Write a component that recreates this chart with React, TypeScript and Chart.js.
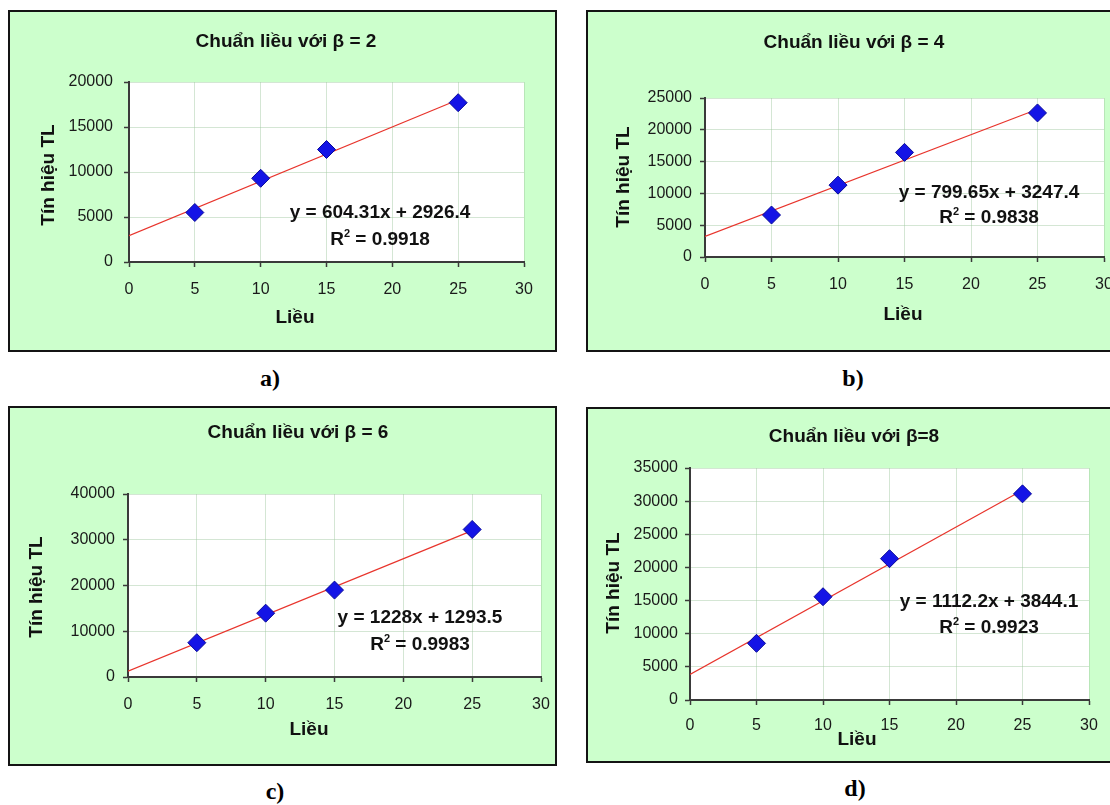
import React, { useEffect, useRef } from "react";
import { Chart, registerables } from "chart.js";

Chart.register(...registerables);

// ---------------- data ----------------
const doses = [5, 10, 15, 25];
const signalA = [5500, 9300, 12500, 17700];
const signalB = [6600, 11300, 16450, 22650];
const signalC = [7500, 13950, 19000, 32250];
const signalD = [8550, 15580, 21320, 31100];
const signals = [signalA, signalB, signalC, signalD];

const slopes = [604.31, 799.65, 1228, 1112.2];
const intercepts = [2926.4, 3247.4, 1293.5, 3844.1];
const trendFrom = 0;
const trendTo = 25;

const titles = [
  "Chuẩn liều với β = 2",
  "Chuẩn liều với β = 4",
  "Chuẩn liều với β = 6",
  "Chuẩn liều với β=8",
];
const equations = [
  "y = 604.31x + 2926.4",
  "y = 799.65x + 3247.4",
  "y = 1228x + 1293.5",
  "y = 1112.2x + 3844.1",
];
const r2Values = ["0.9918", "0.9838", "0.9983", "0.9923"];
const yMaxes = [20000, 25000, 40000, 35000];
const ySteps = [5000, 5000, 10000, 5000];
const xMin = 0;
const xMax = 30;
const xStep = 5;
const captions = ["a)", "b)", "c)", "d)"];
const xAxisTitle = "Liều";
const yAxisTitle = "Tín hiệu TL";

// ---------------- layout (page pixels) ----------------
type Geo = {
  box: { x: number; y: number; w: number; h: number };
  plot: { l: number; t: number; r: number; b: number };
  title: [number, number];
  xTitle: [number, number];
  yTitle: [number, number];
  eq: [number, number];
  r2: [number, number];
  yPad: number;
  xPad: number;
};

const geos: Geo[] = [
  {
    box: { x: 8, y: 10, w: 549, h: 342 },
    plot: { l: 129, t: 82, r: 524, b: 262 },
    title: [286, 42],
    xTitle: [295, 318],
    yTitle: [49, 175],
    eq: [380, 213],
    r2: [380, 240],
    yPad: 11,
    xPad: 13,
  },
  {
    box: { x: 586, y: 10, w: 540, h: 342 },
    plot: { l: 705, t: 98, r: 1104, b: 257 },
    title: [854, 43],
    xTitle: [903, 315],
    yTitle: [624, 177],
    eq: [989, 193],
    r2: [989, 218],
    yPad: 8,
    xPad: 13,
  },
  {
    box: { x: 8, y: 406, w: 549, h: 360 },
    plot: { l: 128, t: 494, r: 541, b: 677 },
    title: [298, 433],
    xTitle: [309, 730],
    yTitle: [37, 587],
    eq: [420, 618],
    r2: [420, 645],
    yPad: 8,
    xPad: 13,
  },
  {
    box: { x: 586, y: 407, w: 540, h: 356 },
    plot: { l: 690, t: 468, r: 1089, b: 700 },
    title: [854, 437],
    xTitle: [857, 740],
    yTitle: [614, 583],
    eq: [989, 602],
    r2: [989, 628],
    yPad: 7,
    xPad: 11,
  },
];

const captionPos: [number, number][] = [
  [270, 378],
  [853, 378],
  [275, 791],
  [855, 788],
];

const FONT = '"Liberation Sans", Arial, Helvetica, sans-serif';
const BORDER = 2;

function overlayPlugin(i: number, g: Geo) {
  return {
    id: "overlay" + i,
    beforeDraw(chart: any) {
      const { ctx, chartArea: a, width, height } = chart;
      ctx.save();
      ctx.fillStyle = "#ccffcc";
      ctx.fillRect(0, 0, width, height);
      ctx.fillStyle = "#ffffff";
      ctx.fillRect(a.left, a.top, a.right - a.left, a.bottom - a.top);
      ctx.restore();
    },
    afterDraw(chart: any) {
      const ctx = chart.ctx as CanvasRenderingContext2D;
      const ox = g.box.x + BORDER;
      const oy = g.box.y + BORDER;
      ctx.save();
      ctx.fillStyle = "#111111";
      ctx.textAlign = "center";
      ctx.textBaseline = "middle";
      ctx.font = `bold 19px ${FONT}`;
      ctx.fillText(titles[i], g.title[0] - ox, g.title[1] - oy);
      ctx.fillText(xAxisTitle, g.xTitle[0] - ox, g.xTitle[1] - oy);
      ctx.save();
      ctx.translate(g.yTitle[0] - ox, g.yTitle[1] - oy);
      ctx.rotate(-Math.PI / 2);
      ctx.fillText(yAxisTitle, 0, 0);
      ctx.restore();
      ctx.fillText(equations[i], g.eq[0] - ox, g.eq[1] - oy);

      // R² line
      const rest = " = " + r2Values[i];
      ctx.font = `bold 19px ${FONT}`;
      const wR = ctx.measureText("R").width;
      const wRest = ctx.measureText(rest).width;
      ctx.font = `bold 11px ${FONT}`;
      const wSup = ctx.measureText("2").width;
      const total = wR + wSup + wRest;
      const sx = g.r2[0] - ox - total / 2;
      const cy = g.r2[1] - oy;
      ctx.textAlign = "left";
      ctx.font = `bold 19px ${FONT}`;
      ctx.fillText("R", sx, cy);
      ctx.fillText(rest, sx + wR + wSup, cy);
      ctx.font = `bold 11px ${FONT}`;
      ctx.fillText("2", sx + wR, cy - 6);
      ctx.restore();
    },
  };
}

function Panel({ i }: { i: number }) {
  const ref = useRef<HTMLCanvasElement | null>(null);
  const g = geos[i];
  const cw = g.box.w - 2 * BORDER;
  const ch = g.box.h - 2 * BORDER;
  const cx = g.box.x + BORDER;
  const cy = g.box.y + BORDER;

  useEffect(() => {
    if (!ref.current) return;
    const points = doses.map((d, k) => ({ x: d, y: signals[i][k] }));
    const trend = [trendFrom, trendTo].map((x) => ({
      x,
      y: slopes[i] * x + intercepts[i],
    }));
    const gridColor = "rgba(160,200,160,0.45)";
    const axisColor = "#3a3a3a";
    const plain = (v: any) => String(v);
    const chart = new Chart(ref.current, {
      type: "scatter",
      data: {
        datasets: [
          {
            label: "points",
            data: points,
            pointStyle: "rectRot",
            pointRadius: 9,
            pointBackgroundColor: "#1414e6",
            pointBorderColor: "#0a0a9a",
            pointBorderWidth: 1,
            showLine: false,
          },
          {
            label: "trend",
            data: trend,
            showLine: true,
            borderColor: "#e8342c",
            borderWidth: 1.2,
            pointRadius: 0,
            fill: false,
          },
        ],
      },
      options: {
        animation: false,
        responsive: false,
        devicePixelRatio: 1,
        events: [],
        layout: {
          padding: {
            left: 0,
            top: g.plot.t - cy,
            right: cx + cw - g.plot.r,
            bottom: 0,
          },
        },
        plugins: {
          legend: { display: false },
          tooltip: { enabled: false },
          title: { display: false },
        },
        scales: {
          x: {
            type: "linear",
            min: xMin,
            max: xMax,
            ticks: {
              stepSize: xStep,
              color: "#1a1a1a",
              font: { family: FONT, size: 16 },
              padding: g.xPad,
              maxRotation: 0,
              callback: plain,
            },
            grid: {
              color: gridColor,
              tickColor: axisColor,
              tickLength: 5,
              tickWidth: 1.5,
            },
            border: { color: axisColor, width: 2 },
            afterFit: (s: any) => {
              s.height = cy + ch - g.plot.b;
              s.paddingLeft = 0;
              s.paddingRight = 0;
            },
          },
          y: {
            type: "linear",
            min: 0,
            max: yMaxes[i],
            ticks: {
              stepSize: ySteps[i],
              color: "#1a1a1a",
              font: { family: FONT, size: 16 },
              padding: g.yPad,
              callback: plain,
            },
            grid: {
              color: gridColor,
              tickColor: axisColor,
              tickLength: 5,
              tickWidth: 1.5,
            },
            border: { color: axisColor, width: 2 },
            afterFit: (s: any) => {
              s.width = g.plot.l - cx;
              s.paddingTop = 0;
              s.paddingBottom = 0;
            },
          },
        },
      },
      plugins: [overlayPlugin(i, g)],
    } as any);
    return () => chart.destroy();
  }, [i]);

  return (
    <div
      style={{
        position: "absolute",
        left: g.box.x,
        top: g.box.y,
        width: g.box.w,
        height: g.box.h,
        boxSizing: "border-box",
        border: `${BORDER}px solid #141414`,
        background: "#ccffcc",
      }}
    >
      <canvas
        ref={ref}
        width={cw}
        height={ch}
        style={{ display: "block", width: cw, height: ch }}
      />
    </div>
  );
}

export default function App() {
  return (
    <div
      style={{
        position: "absolute",
        left: 0,
        top: 0,
        width: 1110,
        height: 805,
        overflow: "hidden",
        background: "#ffffff",
      }}
    >
      {geos.map((_, i) => (
        <Panel key={i} i={i} />
      ))}
      {captions.map((c, i) => (
        <div
          key={"c" + i}
          style={{
            position: "absolute",
            left: captionPos[i][0],
            top: captionPos[i][1],
            transform: "translate(-50%, -50%)",
            font: 'bold 24px "Liberation Serif", "Times New Roman", serif',
            color: "#000",
            whiteSpace: "nowrap",
          }}
        >
          {c}
        </div>
      ))}
    </div>
  );
}
